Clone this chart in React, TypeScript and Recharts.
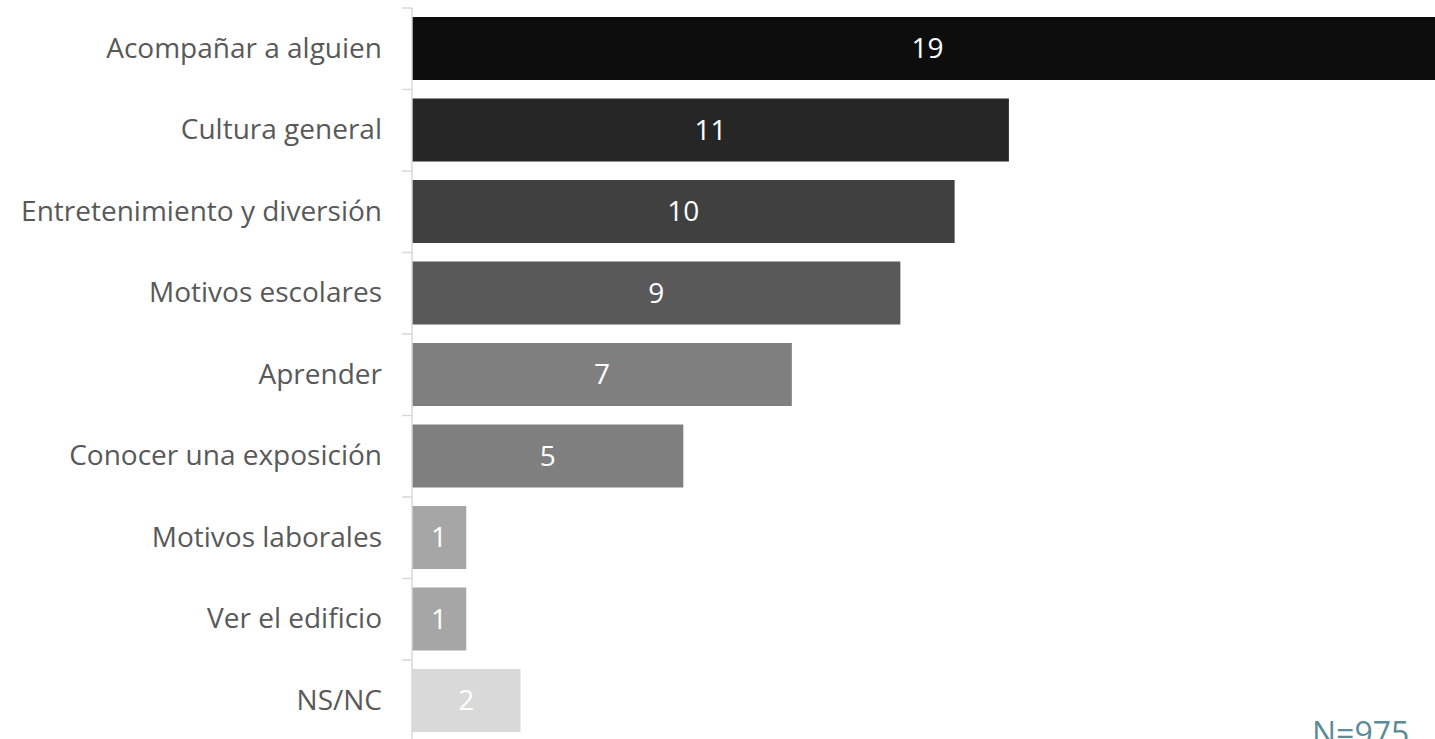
import React from 'react';
import { BarChart, Bar, XAxis, YAxis, Cell, LabelList } from 'recharts';

const categories = [
  'Acompañar a alguien',
  'Cultura general',
  'Entretenimiento y diversión',
  'Motivos escolares',
  'Aprender',
  'Conocer una exposición',
  'Motivos laborales',
  'Ver el edificio',
  'NS/NC',
];
const values = [19, 11, 10, 9, 7, 5, 1, 1, 2];
const barColors = ['#0d0d0d', '#262626', '#404040', '#595959', '#7f7f7f', '#7f7f7f', '#a6a6a6', '#a6a6a6', '#d9d9d9'];
const footnote = 'N=975';

const data = categories.map((name, i) => ({ name, value: values[i] }));

const CHART_W = 1443;
const CHART_H = 744;
const TOP = 8;
const PLOT_H = 733.5;
const band = PLOT_H / categories.length;
const FONT = '"Open Sans", "Noto Sans", sans-serif';

const CategoryTick = (props: any) => {
  const { x, y, payload, index } = props;
  const axisX = x + 30;
  return (
    <g>
      <text x={x} y={y} dy={9} textAnchor="end" fill="#595959" fontSize={28} fontFamily={FONT}>
        {payload.value}
      </text>
      <line x1={axisX - 10} x2={axisX} y1={y - band / 2} y2={y - band / 2} stroke="#d9d9d9" strokeWidth={1.5} />
      {index === categories.length - 1 && (
        <line x1={axisX - 10} x2={axisX} y1={y + band / 2} y2={y + band / 2} stroke="#d9d9d9" strokeWidth={1.5} />
      )}
    </g>
  );
};

export default function App() {
  return (
    <div style={{ position: 'fixed', left: 0, top: 0, width: 1435, height: 739, overflow: 'hidden', background: '#fff' }}>
      <BarChart
        width={CHART_W}
        height={CHART_H}
        data={data}
        layout="vertical"
        margin={{ top: TOP, right: 0, bottom: CHART_H - TOP - PLOT_H, left: 0 }}
      >
        <XAxis type="number" domain={[0, 19]} hide />
        <YAxis
          type="category"
          dataKey="name"
          width={412}
          tickLine={false}
          tickSize={0}
          tickMargin={30}
          axisLine={{ stroke: '#d9d9d9', strokeWidth: 1.5 }}
          tick={<CategoryTick />}
          interval={0}
        />
        <Bar dataKey="value" barSize={63} isAnimationActive={false}>
          {data.map((d, i) => (
            <Cell key={d.name} fill={barColors[i]} />
          ))}
          <LabelList dataKey="value" position="center" fill="#ffffff" fontSize={28} fontFamily={FONT} />
        </Bar>
      </BarChart>
      <div
        style={{
          position: 'absolute',
          left: 1312,
          top: 717,
          fontFamily: FONT,
          fontSize: 32,
          color: '#5b8c98',
          lineHeight: 1,
        }}
      >
        {footnote}
      </div>
    </div>
  );
}
